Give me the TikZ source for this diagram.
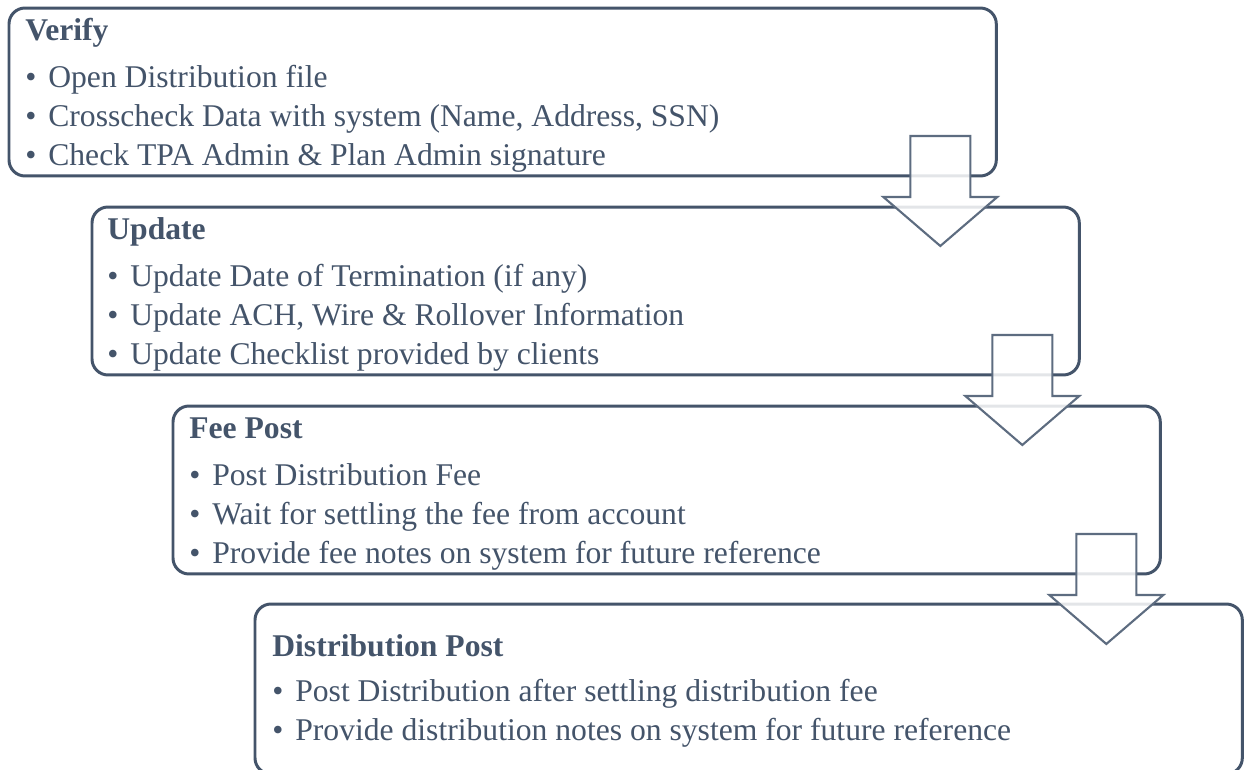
\documentclass[tikz,border=0pt]{standalone}
\usepackage{fontspec}
\setmainfont{Liberation Serif}
\usepackage{xcolor}
\definecolor{slate}{HTML}{44546A}
\definecolor{arrowline}{HTML}{5D6C80}
\usepackage{tikz}
\usetikzlibrary{
  positioning,
  calc
}
\newcommand{\bul}{\makebox[13.1pt][l]{•}}

\begin{document}
\begin{tikzpicture}[
  x=0.02cm, y=-0.02cm,
  stage/.style={rectangle, rounded corners=0.32cm, draw=slate, line width=1.7pt, fill=white, outer sep=0pt, anchor=north west, minimum width=19.75cm, minimum height=3.36cm},
  stagetext/.style={anchor=base west, inner sep=0pt, align=left, text=slate, font=\fontsize{18}{22.2}\selectfont},
  flowarr/.style={draw=arrowline, line width=1.2pt, fill=white, fill opacity=0.85, line join=miter},
]
\useasboundingbox (0,0) rectangle (1246,769);
\clip (0,0) rectangle (1246,769);

% Stages
\node[stage] (verify) at (9,8) {};
\node[stage] (update) at (92,207) {};
\node[stage] (feepost) at (173,406) {};
\node[stage, minimum height=3.4cm] (distpost) at (255,604) {};

% Texts (anchored at the baseline of their last line)
\node[stagetext] (verifytxt) at ($(verify.north west)+(16,157)$)
  {\textbf{Verify}\\[4.5pt]\bul Open Distribution file\\\bul Crosscheck Data with system (Name, Address, SSN)\\\bul Check TPA Admin \& Plan Admin signature};
\node[stagetext] (updatetxt) at ($(update.north west)+(15,157)$)
  {\textbf{Update}\\[4.5pt]\bul Update Date of Termination (if any)\\\bul Update ACH, Wire \& Rollover Information\\\bul Update Checklist provided by clients};
\node[stagetext] (feeposttxt) at ($(feepost.north west)+(16,157)$)
  {\textbf{Fee Post}\\[4.5pt]\bul Post Distribution Fee\\\bul Wait for settling the fee from account\\\bul Provide fee notes on system for future reference};
\node[stagetext] (distposttxt) at ($(distpost.north west)+(17,136)$)
  {\textbf{Distribution Post}\\[3.4pt]\bul Post Distribution after settling distribution fee\\\bul Provide distribution notes on system for future reference};

% Block arrows
\coordinate (a1) at ($(verify.south east)+(-56,-40)$);
\coordinate (a2) at ($(update.south east)+(-57,-40)$);
\coordinate (a3) at ($(feepost.south east)+(-54,-40)$);
\foreach \a in {a1,a2,a3}
  \draw[flowarr] (\a) ++(-30,0) -- ++(0,61) -- ++(-27,0) -- ++(57,49) -- ++(57,-49) -- ++(-27,0) -- ++(0,-61) -- cycle;

\end{tikzpicture}
\end{document}
